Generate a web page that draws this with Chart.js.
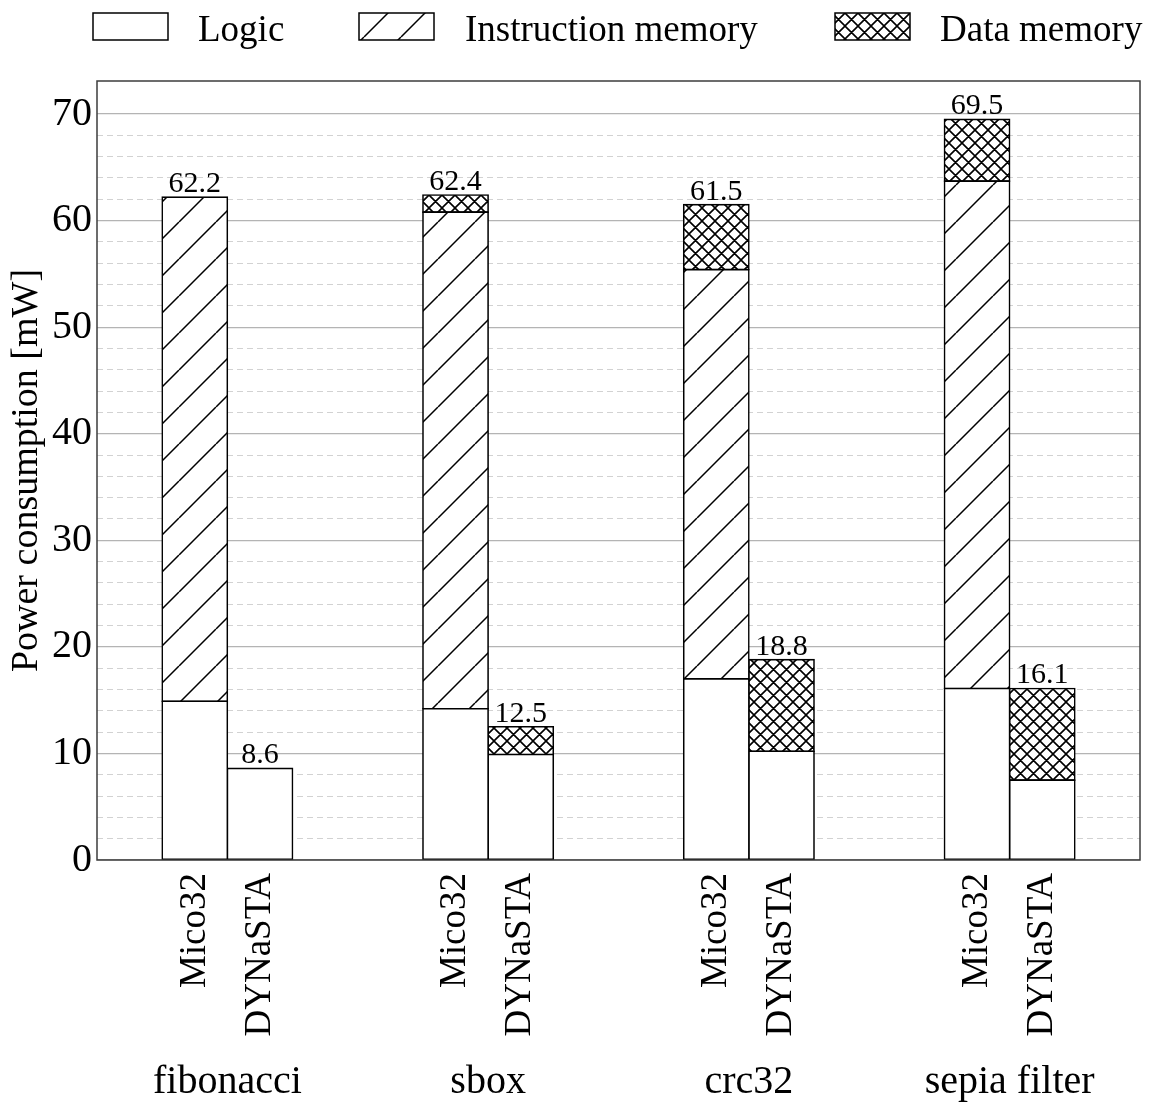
<!DOCTYPE html>
<html>
<head>
<meta charset="utf-8">
<script src="https://cdn.jsdelivr.net/npm/chart.js@4.4.1/dist/chart.umd.min.js"></script>
<style>
  html, body { margin: 0; padding: 0; background: #fff; }
  canvas { display: block; }
</style>
</head>
<body>
<canvas id="chart" width="1150" height="1106"></canvas>
<script>
// Benchmarks and the two processors compared on each one
const benchmarks = ['fibonacci', 'sbox', 'crc32', 'sepia filter'];
const processors = ['Mico32', 'DYNaSTA'];
const components = ['Logic', 'Instruction memory', 'Data memory'];

// Power per component [mW]
const mico32Logic  = [14.9, 14.2, 17.0, 16.1];
const mico32Instr  = [47.3, 46.6, 38.4, 47.6];
const mico32Data   = [0.0, 1.6, 6.1, 5.8];
const dynastaLogic = [8.6, 9.9, 10.2, 7.5];
const dynastaInstr = [0.0, 0.0, 0.0, 0.0];
const dynastaData  = [0.0, 2.6, 8.6, 8.6];

// Y axis
const yMajorTicks = [0, 10, 20, 30, 40, 50, 60, 70];
const yMinorStep = 2;
const yMax = 73.1;

const SERIF = '"Liberation Serif", "Times New Roman", serif';

const canvas = document.getElementById('chart');
const ctx = canvas.getContext('2d');

// Hatch fills: '/' single diagonal and 'x' cross diagonal
function makeHatch(kind) {
  const P = kind === 'diag' ? 37 : 13;
  const c = document.createElement('canvas');
  c.width = P; c.height = P;
  const g = c.getContext('2d');
  g.fillStyle = '#fff';
  g.fillRect(0, 0, P, P);
  g.strokeStyle = '#000';
  g.lineWidth = kind === 'diag' ? 1.5 : 1.6;
  g.beginPath();
  for (const k of [-P, 0, P]) {
    g.moveTo(k, P); g.lineTo(k + P, 0);
    if (kind === 'cross') { g.moveTo(k, 0); g.lineTo(k + P, P); }
  }
  g.stroke();
  const pat = ctx.createPattern(c, 'repeat');
  if (kind === 'diag' && pat.setTransform) pat.setTransform(new DOMMatrix().translate(31, 0));
  return pat;
}
const fills = ['#ffffff', makeHatch('diag'), makeHatch('cross')];

const stacks = [
  { name: processors[0], series: [mico32Logic, mico32Instr, mico32Data] },
  { name: processors[1], series: [dynastaLogic, dynastaInstr, dynastaData] }
];

const datasets = [];
stacks.forEach(s => {
  s.series.forEach((vals, k) => {
    datasets.push({
      label: components[k],
      stack: s.name,
      data: vals,
      backgroundColor: fills[k],
      borderColor: '#000',
      borderWidth: 1.6,
      inflateAmount: 0.8,
      borderSkipped: false,
      barPercentage: 1.0,
      categoryPercentage: 0.5
    });
  });
});

const decorations = {
  id: 'decorations',
  afterDatasetsDraw(chart) {
    const c = chart.ctx;
    const a = chart.chartArea;
    c.save();
    // Totals above each stacked bar
    c.fillStyle = '#000';
    c.font = '30px ' + SERIF;
    c.textAlign = 'center';
    c.textBaseline = 'alphabetic';
    stacks.forEach((s, si) => {
      const topIdx = si * 3 + 2;
      const meta = chart.getDatasetMeta(topIdx);
      meta.data.forEach((el, j) => {
        const total = s.series.reduce((acc, arr) => acc + arr[j], 0);
        c.fillText(total.toFixed(1), el.x, el.y - 5);
      });
    });
    // Plot frame
    c.strokeStyle = '#3c3c3c';
    c.lineWidth = 1.5;
    c.strokeRect(a.left, a.top, a.right - a.left, a.bottom - a.top);
    c.restore();
  },
  afterDraw(chart) {
    const c = chart.ctx;
    const a = chart.chartArea;
    c.save();
    c.fillStyle = '#000';
    // Processor names, rotated under each bar
    c.font = '37px ' + SERIF;
    c.textAlign = 'right';
    c.textBaseline = 'middle';
    stacks.forEach((s, si) => {
      const meta = chart.getDatasetMeta(si * 3);
      meta.data.forEach(el => {
        c.save();
        c.translate(el.x, a.bottom + 13);
        c.rotate(-Math.PI / 2);
        c.fillText(s.name, 0, 0);
        c.restore();
      });
    });
    // Benchmark names
    const xs = chart.scales.x;
    c.font = '40px ' + SERIF;
    c.textAlign = 'center';
    c.textBaseline = 'alphabetic';
    benchmarks.forEach((b, i) => {
      c.fillText(b, xs.getPixelForValue(i), a.bottom + 233);
    });
    // Legend
    const items = [
      { box: 93, text: 198 },
      { box: 359, text: 465 },
      { box: 835, text: 940 }
    ];
    c.font = '37px ' + SERIF;
    c.textAlign = 'left';
    items.forEach((it, k) => {
      c.fillStyle = fills[k];
      c.fillRect(it.box, 13, 75, 27);
      c.strokeStyle = '#000';
      c.lineWidth = 1.5;
      c.strokeRect(it.box, 13, 75, 27);
      c.fillStyle = '#000';
      c.fillText(components[k], it.text, 41);
    });
    c.restore();
  }
};

new Chart(ctx, {
  type: 'bar',
  data: { labels: benchmarks, datasets },
  plugins: [decorations],
  options: {
    responsive: false,
    animation: false,
    devicePixelRatio: 1,
    layout: { padding: { top: 81, right: 10, left: 0, bottom: 0 } },
    plugins: { legend: { display: false }, tooltip: { enabled: false } },
    scales: {
      x: {
        stacked: true,
        offset: true,
        grid: { display: false },
        border: { display: false },
        ticks: { display: false },
        afterFit(s) { s.height = 246; }
      },
      y: {
        stacked: true,
        position: 'left',
        min: 0,
        max: yMax,
        afterBuildTicks(s) { s.ticks = yMajorTicks.map(v => ({ value: v })); },
        grid: { color: '#b4b4b4', lineWidth: 1.3, drawTicks: false },
        border: { display: false },
        ticks: {
          color: '#000',
          padding: 5,
          font: { family: SERIF, size: 40 }
        },
        title: {
          display: true,
          text: 'Power consumption [mW]',
          color: '#000',
          font: { family: SERIF, size: 38 },
          padding: { top: 4, bottom: 0 }
        },
        afterFit(s) { s.width = 97; }
      },
      yMinor: {
        position: 'left',
        min: 0,
        max: yMax,
        ticks: { display: false, stepSize: yMinorStep },
        afterBuildTicks(s) {
          s.ticks = s.ticks.filter(t => t.value % 10 !== 0 && t.value % yMinorStep === 0);
        },
        grid: { color: '#d2d2d2', lineWidth: 1, drawTicks: false },
        border: { display: false, dash: [6, 4] },
        afterFit(s) { s.width = 0; }
      }
    }
  }
});
</script>
</body>
</html>
